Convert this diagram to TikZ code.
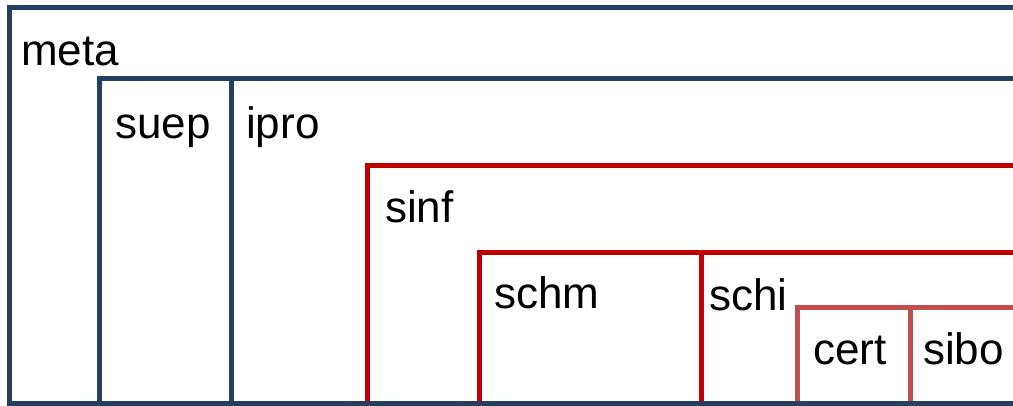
\documentclass[tikz,border=0pt]{standalone}
\usepackage{fontspec}
\setmainfont{Liberation Sans}
\definecolor{frameblue}{HTML}{243F60}
\definecolor{framered}{HTML}{C00000}
\definecolor{framerose}{HTML}{C0504D}
\tikzset{
  blueframe/.style={draw=frameblue, line width=5pt},
  redframe/.style={draw=framered, line width=5pt},
  roseframe/.style={draw=framerose, line width=5pt},
  label box/.style={anchor=base west, inner sep=0pt, font=\fontsize{44}{44}\selectfont}
}

\begin{document}
\begin{tikzpicture}[x=1pt,y=-1pt]
		\useasboundingbox (0,0) rectangle (1013,405);
		\clip (0,0) rectangle (1013,405);
		
		% innermost level
		\draw[roseframe] (797,403) |- (1030,307);
		\draw[roseframe] (910,307) -- (910,403);
		
		% middle level
		\draw[redframe] (479,403) |- (1030,252);
		\draw[redframe] (701,252) -- (701,403);
		\draw[redframe] (367,403) |- (1030,165);
		
		% outer level
		\draw[blueframe] (99.5,403) |- (1030,78);
		\draw[blueframe] (231,78) -- (231,403);
		\draw[blueframe] (1030,7) -| (9.5,403) -- (1030,403);
		
		\node[label box] (meta) at (21,65) {meta};
		\node[label box] (suep) at (115,138) {suep};
		\node[label box] (ipro) at (246,138) {ipro};
		\node[label box] (sinf) at (385,222) {sinf};
		\node[label box] (schm) at (494,308) {schm};
		\node[label box] (schi) at (709,310) {schi};
		\node[label box] (cert) at (813,364) {cert};
		\node[label box] (sibo) at (923,364) {sibo};
\end{tikzpicture}
\end{document}
